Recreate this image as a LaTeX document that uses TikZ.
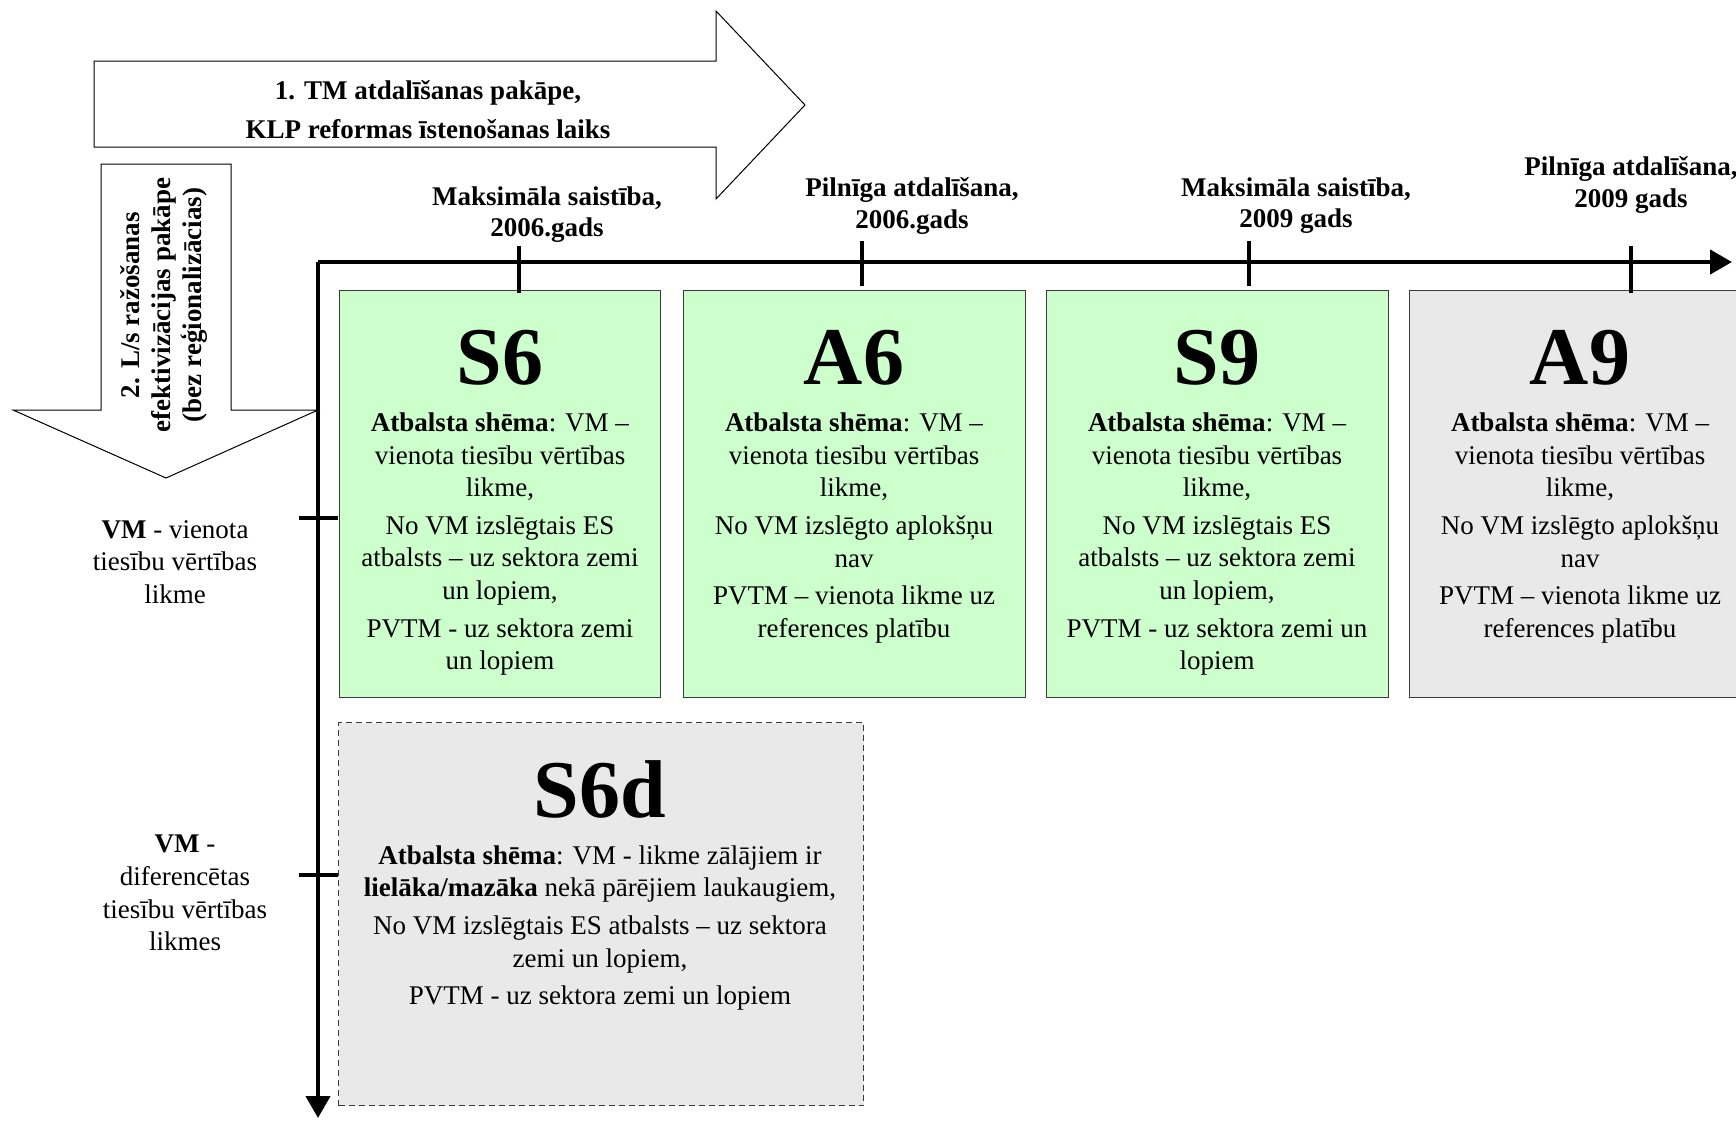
\documentclass[tikz,border=0pt]{standalone}
\usepackage{fontspec}
\setmainfont{Liberation Serif}
\usetikzlibrary{arrows.meta}
\definecolor{boxgreen}{HTML}{CCFFCC}
\definecolor{boxgray}{HTML}{E9E9E9}
\definecolor{edgegray}{HTML}{3A3A3A}
\begin{document}
\begin{tikzpicture}[x=0.5pt,y=-0.5pt,
  bodytext/.style={font=\fontsize{13.5}{16.3}\selectfont, align=center, inner sep=0pt},
  boldtext/.style={font=\fontsize{13.5}{15.6}\selectfont\bfseries, align=center, inner sep=0pt},
  title/.style={font=\fontsize{41}{45}\selectfont\bfseries, inner sep=0pt},
  greenbox/.style={draw=edgegray, line width=0.7pt, fill=boxgreen, anchor=north west, minimum height=203.5pt, inner sep=0pt},
  graybox/.style={draw=edgegray, line width=0.7pt, fill=boxgray, anchor=north west, inner sep=0pt},
  bigarrow/.style={draw=black, line width=0.5pt, fill=white},
  axis/.style={line width=2.2pt, -{Triangle[length=11pt,width=12pt]}},
  tickmark/.style={line width=1.7pt}
]
\useasboundingbox[fill=white] (0,0) rectangle (1736,1120);

% big right arrow
\draw[bigarrow] (94,61) -- (716,61) -- (716,11) -- (805,105) -- (716,199) -- (716,147) -- (94,147) -- cycle;
\node[boldtext, font=\fontsize{13.5}{19.5}\selectfont\bfseries] (phase1) at (428,110) {1. TM atdalīšanas pakāpe,\\KLP reformas īstenošanas laiks};

% down arrow
\draw[bigarrow] (101,164) -- (231,164) -- (231,410) -- (318,410) -- (166,478) -- (13,410) -- (101,410) -- cycle;
\node[boldtext, rotate=90] (phase2) at (164,305) {2. L/s ražošanas\\efektivizācijas pakāpe\\(bez reģionalizācias)};

% boxes
\node[greenbox, minimum width=160.5pt] (S6) at (339,290) {};
\node[greenbox, minimum width=171pt] (A6) at (683,290) {};
\node[greenbox, minimum width=171pt] (S9) at (1046,290) {};
\begin{scope}
\clip (0,0) rectangle (1736,1120);
\node[graybox, minimum width=171pt, minimum height=203.5pt] (A9) at (1409,290) {};
\end{scope}
\node[graybox, dashed, dash pattern=on 3pt off 2pt, line width=0.6pt, minimum width=262.5pt, minimum height=191.5pt] (S6d) at (338,722) {};

% axes
\coordinate (origin) at (318,262);
\coordinate (xend) at (1732,262);
\coordinate (yend) at (318,1118);
\draw[axis] (origin) -- (xend);
\draw[axis] (origin) -- (yend);

% ticks
\draw[tickmark] (519,246) -- (519,293);
\draw[tickmark] (862,241) -- (862,286);
\draw[tickmark] (1249,241) -- (1249,286);
\draw[tickmark] (1631,246) -- (1631,293);
\draw[tickmark] (299,518) -- (338,518);
\draw[tickmark] (299,875) -- (338,875);

% top labels
\node[boldtext] (l1) at (547,215) {Maksimāla saistība,\\2006.gads};
\node[boldtext] (l2) at (912,206) {Pilnīga atdalīšana,\\2006.gads};
\node[boldtext] (l3) at (1296,206) {Maksimāla saistība,\\2009 gads};
\node[boldtext] (l4) at (1631,185) {Pilnīga atdalīšana,\\2009 gads};

% left labels
\node[bodytext] (v1) at (175,562) {\textbf{VM} - vienota\\tiesību vērtības\\likme};
\node[bodytext] (v2) at (185,893) {\textbf{VM} -\\diferencētas\\tiesību vērtības\\likmes};

% titles
\node[title] (tS6) at (500,358) {S6};
\node[title] (tA6) at (854,358) {A6};
\node[title] (tS9) at (1217,358) {S9};
\node[title] (tA9) at (1580,358) {A9};
\node[title] (tS6d) at (600,789) {S6d};

% body texts
\node[bodytext] (bS6) at (500,544) {\textbf{Atbalsta shēma}: VM –\\vienota tiesību vērtības\\likme,\\[2.5pt]No VM izslēgtais ES\\atbalsts – uz sektora zemi\\un lopiem,\\[2.5pt]PVTM - uz sektora zemi\\un lopiem};
\node[bodytext] (bA6) at (854,528) {\textbf{Atbalsta shēma}: VM –\\vienota tiesību vērtības\\likme,\\[2.5pt]No VM izslēgto aplokšņu\\nav\\[2.5pt]PVTM – vienota likme uz\\references platību};
\node[bodytext] (bS9) at (1217,544) {\textbf{Atbalsta shēma}: VM –\\vienota tiesību vērtības\\likme,\\[2.5pt]No VM izslēgtais ES\\atbalsts – uz sektora zemi\\un lopiem,\\[2.5pt]PVTM - uz sektora zemi un\\lopiem};
\node[bodytext] (bA9) at (1580,528) {\textbf{Atbalsta shēma}: VM –\\vienota tiesību vērtības\\likme,\\[2.5pt]No VM izslēgto aplokšņu\\nav\\[2.5pt]PVTM – vienota likme uz\\references platību};
\node[bodytext] (bS6d) at (600,928) {\textbf{Atbalsta shēma}: VM - likme zālājiem ir\\\textbf{lielāka/mazāka} nekā pārējiem laukaugiem,\\[2.5pt]No VM izslēgtais ES atbalsts – uz sektora\\zemi un lopiem,\\[2.5pt]PVTM - uz sektora zemi un lopiem};
\end{tikzpicture}
\end{document}
